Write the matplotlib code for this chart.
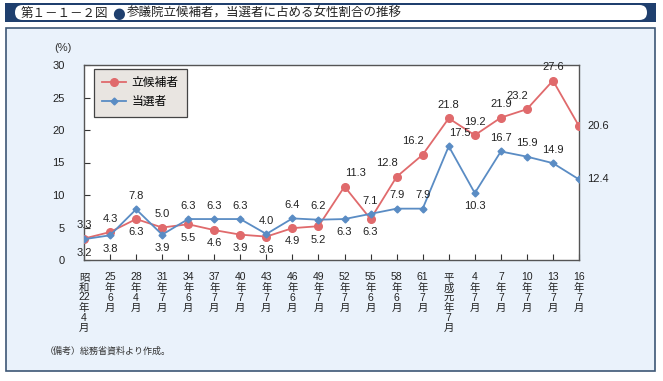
import matplotlib
matplotlib.use("Agg")
from matplotlib import pyplot as plt
from matplotlib.patches import Rectangle, FancyBboxPatch

plt.rcParams['font.family'] = ['Liberation Sans', 'Noto Sans CJK JP', 'DejaVu Sans']

# election labels (vertical japanese)
labels = ["昭\n和\n22\n年\n4\n月", "25\n年\n6\n月", "28\n年\n4\n月", "31\n年\n7\n月",
          "34\n年\n6\n月", "37\n年\n7\n月", "40\n年\n7\n月", "43\n年\n7\n月",
          "46\n年\n6\n月", "49\n年\n7\n月", "52\n年\n7\n月", "55\n年\n6\n月",
          "58\n年\n6\n月", "61\n年\n7\n月", "平\n成\n元\n年\n7\n月", "4\n年\n7\n月",
          "7\n年\n7\n月", "10\n年\n7\n月", "13\n年\n7\n月", "16\n年\n7\n月"]
candidates = [3.3, 4.3, 6.3, 5.0, 5.5, 4.6, 3.9, 3.6, 4.9, 5.2,
              11.3, 6.3, 12.8, 16.2, 21.8, 19.2, 21.9, 23.2, 27.6, 20.6]
elected = [3.2, 3.8, 7.8, 3.9, 6.3, 6.3, 6.3, 4.0, 6.4, 6.2,
           6.3, 7.1, 7.9, 7.9, 17.5, 10.3, 16.7, 15.9, 14.9, 12.4]

# label placement: u=above, d=below, ul=upper left, ur=upper right, r=right
cand_pos = ["u", "u", "d", "u", "d", "d", "d", "d", "d", "d",
            "ur", "d", "ul", "ul", "u", "u", "u", "ul", "u", "r"]
elec_pos = ["d", "d", "u", "d", "u", "u", "u", "u", "u", "u",
            "d", "u", "u", "u", "ur", "d", "u", "u", "u", "r"]

red = "#e06a6c"
blue = "#5a8cc4"
W, H = 663, 381

fig = plt.figure(figsize=(W / 100, H / 100), dpi=100)

# background frame drawn in pixel coords
bg = fig.add_axes([0, 0, 1, 1], zorder=0)
bg.set_xlim(0, W)
bg.set_ylim(H, 0)
bg.axis("off")
bg.add_patch(Rectangle((6, 28), 649, 343, facecolor="#eaf2fb", edgecolor="#3d5675", lw=1.2))
bg.add_patch(Rectangle((5, 3), 651, 19, facecolor="#1f3f6e", edgecolor="none"))
bg.add_patch(FancyBboxPatch((15, 5), 632, 15, boxstyle="round,pad=0,rounding_size=7.5",
                            facecolor="white", edgecolor="none", mutation_aspect=1))
bg.text(21, 14, "第１－１－２図", fontsize=9, va="center", ha="left", color="#222222")
bg.text(112, 13.5, "●", fontsize=10.5, va="center", ha="left", color="#1f3f6e",
        family=["DejaVu Sans"])
bg.text(127, 14, "参議院立候補者，当選者に占める女性割合の推移", fontsize=9, va="center",
        ha="left", color="#222222")
bg.text(45, 351, "（備考）総務省資料より作成。", fontsize=6.5, va="center", ha="left",
        color="#333333")
bg.text(63, 48, "(%)", fontsize=8, va="center", ha="center", color="#333333")

ax = fig.add_axes([84 / W, 121 / H, 495 / W, 195 / H], zorder=1)
x = list(range(len(labels)))
ax.plot(x, candidates, color=red, lw=1.3, marker="o", ms=5.5, label="立候補者", zorder=3)
ax.plot(x, elected, color=blue, lw=1.3, marker="D", ms=3.5, label="当選者", zorder=4)

offs = {"u": (0, 6, "center", "bottom"), "d": (0, -6, "center", "top"),
        "ul": (-7, 6, "center", "bottom"), "ur": (8, 6, "center", "bottom"),
        "r": (6, 0, "left", "center")}
for series, pos in ((candidates, cand_pos), (elected, elec_pos)):
    for i, v in enumerate(series):
        dx, dy, ha, va = offs[pos[i]]
        ax.annotate(f"{v:.1f}", (i, v), xytext=(dx, dy), textcoords="offset points",
                    ha=ha, va=va, fontsize=8, color="#222222", zorder=5)

ax.set_xlim(0, len(labels) - 1)
ax.set_ylim(0, 30)
ax.set_yticks([0, 5, 10, 15, 20, 25, 30])
ax.set_xticks(x)
ax.set_xticklabels(labels, fontsize=7.5, linespacing=1.0, va="top")
ax.tick_params(axis="both", direction="in", length=4, color="#333333", labelcolor="#222222")
ax.tick_params(axis="y", pad=14, labelsize=8)
ax.tick_params(axis="x", pad=9)
for s in ax.spines.values():
    s.set_color("#555555")
    s.set_linewidth(1.0)
ax.set_facecolor("white")

leg = ax.legend(loc="upper left", bbox_to_anchor=(10 / 495, 1 - 4 / 195), frameon=True,
                fancybox=False, fontsize=8.5, handlelength=2.0, borderpad=0.7,
                labelspacing=0.6, handletextpad=0.5, borderaxespad=0)
leg.get_frame().set_facecolor("#e9e5e1")
leg.get_frame().set_edgecolor("#444444")
leg.get_frame().set_linewidth(0.9)
leg.get_frame().set_alpha(1)

fig.savefig("out.png", dpi=100)
